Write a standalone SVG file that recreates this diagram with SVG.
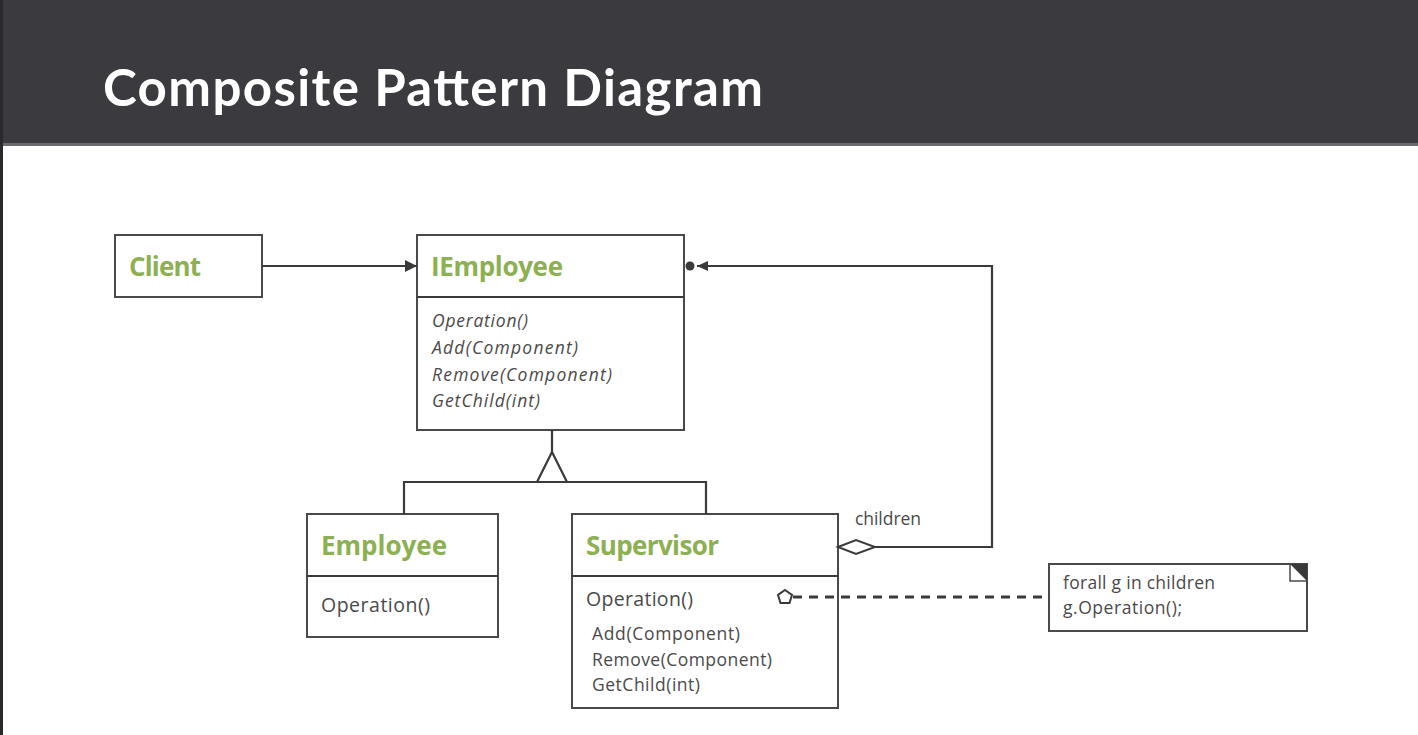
<svg xmlns="http://www.w3.org/2000/svg" width="1418" height="735" viewBox="0 0 1418 735">
<style>
.box{fill:#fff;stroke:#4a4a4a;stroke-width:2}
.ln{fill:none;stroke:#3a3a3a;stroke-width:2.2}
.ttl{font-family:"Open Sans",Lato,sans-serif;font-weight:bold;font-size:26px;fill:#8cb052}
.m{font-family:"Open Sans",Lato,sans-serif;font-size:17.5px;fill:#4a4a4a}
.mi{font-family:"Open Sans",Lato,sans-serif;font-size:17.5px;font-style:italic;fill:#4a4a4a}
.op{font-family:"Open Sans",Lato,sans-serif;font-size:19.5px;fill:#4a4a4a}
</style>
<defs>
<marker id="arr" viewBox="0 0 10 10" refX="10" refY="5" markerWidth="12" markerHeight="12" markerUnits="userSpaceOnUse" orient="auto">
<path d="M0,0 L10,5 L0,10 Z" fill="#3a3a3a"/>
</marker>
</defs>
<rect x="0" y="0" width="1418" height="735" fill="#fff"/>
<rect x="0" y="0" width="1418" height="145" fill="#3b3a3f"/>
<rect x="0" y="143" width="1418" height="3" fill="#6a6a6e"/>
<rect x="0" y="0" width="3" height="735" fill="#2a2a2c"/>
<text x="103" y="106" font-family="Lato,'Open Sans',sans-serif" font-weight="bold" font-size="51" fill="#ffffff" textLength="660">Composite Pattern Diagram</text>

<g id="client">
<rect class="box" x="115" y="235" width="147" height="62"/>
<text class="ttl" x="129" y="276" textLength="72">Client</text>
</g>

<g id="iemployee">
<rect class="box" x="417" y="235" width="267" height="195"/>
<line class="ln" x1="417" y1="297" x2="684" y2="297"/>
<text class="ttl" x="431" y="276" textLength="132">IEmployee</text>
<text class="mi" x="432" y="327" textLength="96">Operation()</text>
<text class="mi" x="432" y="354" textLength="146">Add(Component)</text>
<text class="mi" x="432" y="381" textLength="180">Remove(Component)</text>
<text class="mi" x="432" y="407" textLength="108">GetChild(int)</text>
</g>

<g id="employee">
<rect class="box" x="307" y="514" width="191" height="123"/>
<line class="ln" x1="307" y1="576" x2="498" y2="576"/>
<text class="ttl" x="321" y="555" textLength="126">Employee</text>
<text class="op" x="321" y="612" textLength="109">Operation()</text>
</g>

<g id="supervisor">
<rect class="box" x="572" y="514" width="266" height="194"/>
<line class="ln" x1="572" y1="576" x2="838" y2="576"/>
<text class="ttl" x="586" y="555" textLength="133">Supervisor</text>
<text class="op" x="586" y="606" textLength="107">Operation()</text>
<text class="m" x="592" y="640" textLength="148">Add(Component)</text>
<text class="m" x="592" y="666" textLength="180">Remove(Component)</text>
<text class="m" x="592" y="691" textLength="108">GetChild(int)</text>
</g>

<g id="note">
<rect class="box" x="1049" y="564" width="258" height="67"/>
<rect x="1290" y="564" width="17" height="17" fill="#fff" stroke="#4a4a4a" stroke-width="1.5"/>
<path d="M1290,564 L1307,564 L1307,581 Z" fill="#3a3a3a"/>
<text class="m" x="1063" y="589" textLength="152">forall g in children</text>
<text class="m" x="1063" y="614" textLength="119">g.Operation();</text>
</g>

<g id="connectors">
<line class="ln" x1="262" y1="266" x2="417" y2="266" marker-end="url(#arr)"/>
<polyline class="ln" points="875,547 992,547 992,266 697,266"/>
<path d="M697,266 L708,261 L708,271 Z" fill="#3a3a3a"/>
<circle cx="690" cy="266" r="4.5" fill="#3a3a3a"/>
<path d="M838,547 L856,540 L875,547 L856,554 Z" fill="#fff" stroke="#3a3a3a" stroke-width="2"/>
<text class="m" x="855" y="525" textLength="66">children</text>
<line class="ln" x1="552" y1="430" x2="552" y2="452"/>
<polyline class="ln" points="537,482 552,452 567,482"/>
<polyline class="ln" points="404,514 404,482 706,482 706,514"/>
<line x1="793" y1="597" x2="1049" y2="597" stroke="#3a3a3a" stroke-width="3" stroke-dasharray="9,7"/>
<polygon points="785,590 792,595 789.5,603 780.5,603 778,595" fill="#fff" stroke="#3a3a3a" stroke-width="2"/>
</g>
</svg>
